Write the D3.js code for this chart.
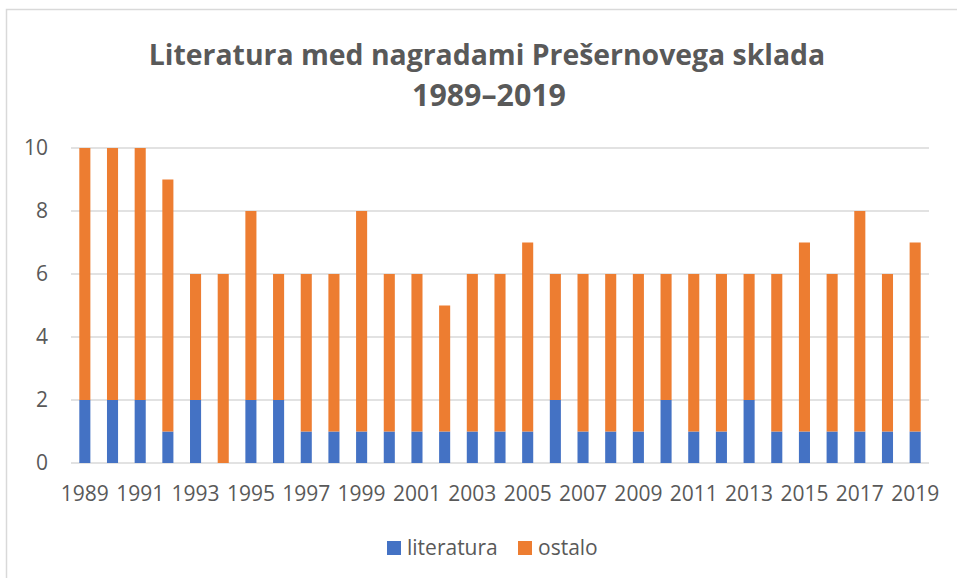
<!DOCTYPE html>
<html>
<head>
<meta charset="utf-8">
<script src="https://cdn.jsdelivr.net/npm/d3@7"></script>
<style>
  body { margin: 0; background: #fff; }
  svg { display: block; }
</style>
</head>
<body>
<svg></svg>
<script>
const width = 957;
const height = 578;

// data
const years = d3.range(1989, 2020).map(String);
const literatura = [2,2,2,1,2,0,2,2,1,1,1,1,1,1,1,1,1,2,1,1,1,2,1,1,2,1,1,1,1,1,1];
const skupaj =     [10,10,10,9,6,6,8,6,6,6,8,6,6,5,6,6,7,6,6,6,6,6,6,6,6,6,7,6,8,6,7];
const ostalo = skupaj.map((t, i) => t - literatura[i]);
const yTicks = [0, 2, 4, 6, 8, 10];
const xLabels = years.filter((d, i) => i % 2 === 0);
const series = ["literatura", "ostalo"];
const colors = { literatura: "#4472C4", ostalo: "#ED7D31" };

const rows = years.map((y, i) => ({ year: y, literatura: literatura[i], ostalo: ostalo[i] }));

const font = "'Open Sans', sans-serif";
const textColor = "#595959";

let svg = d3.select("svg")
    .attr("width", width)
    .attr("height", height)

// chart area border
svg.append("rect")
    .attr("x", 6.5)
    .attr("y", 9.5)
    .attr("width", width + 20)
    .attr("height", height + 20)
    .attr("fill", "none")
    .attr("stroke", "#D9D9D9")
    .attr("stroke-width", 1.5)

const x = d3.scaleBand()
    .domain(years)
    .range([71, 929])
    .paddingInner(0.6)
    .paddingOuter(0.3)

const y = d3.scaleLinear()
    .domain([0, 10])
    .range([463, 148])

// gridlines
svg.append("g")
    .selectAll("line")
    .data(yTicks)
    .join("line")
    .attr("x1", 71)
    .attr("x2", 929)
    .attr("y1", d => y(d))
    .attr("y2", d => y(d))
    .attr("stroke", "#D9D9D9")
    .attr("stroke-width", 1.3)

// stacked bars
const stacked = d3.stack().keys(series)(rows);

svg.append("g")
    .selectAll("g")
    .data(stacked)
    .join("g")
    .attr("fill", d => colors[d.key])
    .selectAll("rect")
    .data(d => d)
    .join("rect")
    .attr("x", d => x(d.data.year))
    .attr("width", x.bandwidth())
    .attr("y", d => y(d[1]))
    .attr("height", d => y(d[0]) - y(d[1]))

// y axis labels
const yAxis = svg.append("g")
    .attr("transform", "translate(48,0)")
    .call(d3.axisLeft(y).tickValues(yTicks).tickSize(0).tickPadding(0))
yAxis.select(".domain").remove()
yAxis.selectAll("text")
    .attr("font-family", font)
    .attr("font-size", 21)
    .attr("fill", textColor)

// x axis labels
const xAxis = svg.append("g")
    .attr("transform", "translate(0,463)")
    .call(d3.axisBottom(x).tickValues(xLabels).tickSize(0).tickPadding(23))
xAxis.select(".domain").remove()
xAxis.selectAll("text")
    .attr("font-family", font)
    .attr("font-size", 21)
    .attr("fill", textColor)

// title
const title = svg.append("text")
    .attr("text-anchor", "middle")
    .attr("font-family", font)
    .attr("font-weight", "bold")
    .attr("font-size", 26)
    .attr("fill", textColor)
const t1 = title.append("tspan").attr("x", 487).attr("y", 65).text("Literatura med nagradami Prešernovega sklada")
const t2 = title.append("tspan").attr("x", 489).attr("y", 106).text("1989–2019")

// fit title lines to the widths they have in the picture
t1.attr("font-size", 26 * 677 / t1.node().getComputedTextLength())
t2.attr("font-size", 26 * 154 / t2.node().getComputedTextLength())

// legend
const legendX = [387, 518];
const legend = svg.append("g")
    .selectAll("g")
    .data(series)
    .join("g")
    .attr("transform", (d, i) => `translate(${legendX[i]},541)`)

legend.append("rect")
    .attr("width", 14)
    .attr("height", 14)
    .attr("fill", d => colors[d])

legend.append("text")
    .attr("x", 20)
    .attr("y", 14)
    .attr("font-family", font)
    .attr("font-size", 21)
    .attr("fill", textColor)
    .text(d => d)
</script>
</body>
</html>
